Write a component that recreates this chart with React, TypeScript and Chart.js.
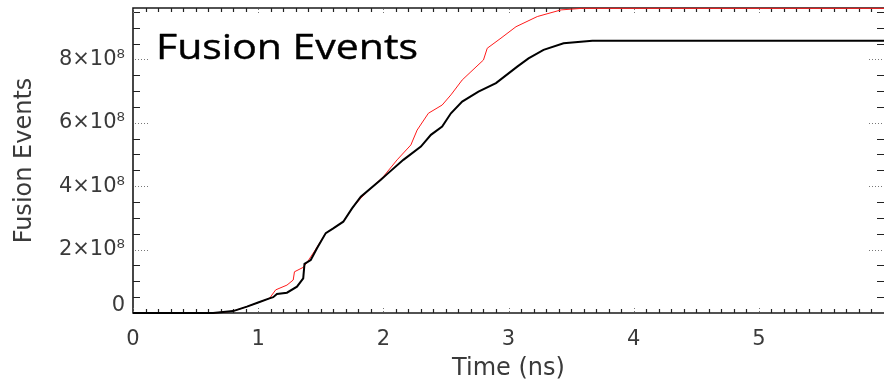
import React, { useEffect, useRef } from 'react';
import { Chart, registerables } from 'chart.js';

Chart.register(...registerables);

// Cumulative fusion events versus time, two simulation runs
const blackTime = [
  0, 0.64, 0.8, 0.91, 1.0, 1.09, 1.12, 1.15, 1.23, 1.31, 1.36, 1.37, 1.42, 1.47,
  1.54, 1.6, 1.68, 1.75, 1.82, 1.98, 2.03, 2.16, 2.3, 2.38, 2.47, 2.54, 2.63,
  2.76, 2.9, 3.07, 3.16, 3.28, 3.44, 3.67, 6.0,
];
const blackEvents = [
  0, 0, 0.06e8, 0.2e8, 0.33e8, 0.46e8, 0.5e8, 0.6e8, 0.64e8, 0.83e8, 1.09e8,
  1.55e8, 1.67e8, 2.04e8, 2.52e8, 2.67e8, 2.88e8, 3.3e8, 3.67e8, 4.2e8, 4.38e8,
  4.83e8, 5.25e8, 5.62e8, 5.88e8, 6.3e8, 6.67e8, 6.98e8, 7.25e8, 7.77e8,
  8.03e8, 8.3e8, 8.51e8, 8.59e8, 8.59e8,
];

const redTime = [
  0, 0.64, 0.8, 0.91, 1.0, 1.09, 1.14, 1.23, 1.28, 1.29, 1.36, 1.39, 1.45, 1.54,
  1.6, 1.68, 1.75, 1.82, 1.9, 2.0, 2.11, 2.22, 2.27, 2.36, 2.47, 2.54, 2.63,
  2.7, 2.8, 2.83, 2.94, 3.06, 3.23, 3.42, 3.59, 6.0,
];
const redEvents = [
  0, 0, 0.06e8, 0.2e8, 0.33e8, 0.46e8, 0.73e8, 0.88e8, 1.04e8, 1.3e8, 1.44e8,
  1.59e8, 1.95e8, 2.52e8, 2.67e8, 2.88e8, 3.3e8, 3.62e8, 3.93e8, 4.3e8, 4.83e8,
  5.3e8, 5.77e8, 6.3e8, 6.56e8, 6.88e8, 7.35e8, 7.61e8, 7.98e8, 8.35e8, 8.67e8,
  9.03e8, 9.35e8, 9.56e8, 9.61e8, 9.61e8,
];

const xMajorTicks = [0, 1, 2, 3, 4, 5, 6];
const xTickLabels = ['0', '1', '2', '3', '4', '5', ''];
const yMajorTicks = [0, 2e8, 4e8, 6e8, 8e8];
// the zero label sits a little above its tick, hence the empty second line
const yTickLabels: (string | string[])[] = [['0', ''], '2×10⁸', '4×10⁸', '6×10⁸', '8×10⁸'];

const X_MAX = 6;
const Y_MAX = 9.62e8;
const X_MINOR_STEP = 0.1;
const Y_MINOR_STEP = 0.5e8;

const axisFont = '"DejaVu Sans", sans-serif';
const axisColor = '#3a3a3a';

// Frame plus inward-pointing tick marks on all four sides
const frameTicks = {
  id: 'frameTicks',
  beforeDatasetsDraw(chart: any) {
    const { ctx, chartArea } = chart;
    const { left, right, top, bottom } = chartArea;
    const xs = chart.scales.x;
    const ys = chart.scales.y;
    ctx.save();

    ctx.strokeStyle = '#1a1a1a';
    ctx.lineWidth = 1.6;
    ctx.beginPath();
    ctx.moveTo(right, top);
    ctx.lineTo(left, top);
    ctx.lineTo(left, bottom);
    ctx.lineTo(right, bottom);
    ctx.stroke();

    // minor ticks (solid)
    ctx.lineWidth = 1.2;
    ctx.strokeStyle = '#222';
    ctx.beginPath();
    const nx = Math.round(X_MAX / X_MINOR_STEP);
    for (let i = 1; i <= nx; i++) {
      if (i % 10 === 0) continue;
      const px = Math.round(xs.getPixelForValue(i * X_MINOR_STEP)) + 0.5;
      ctx.moveTo(px, bottom);
      ctx.lineTo(px, bottom - 4);
      ctx.moveTo(px, top);
      ctx.lineTo(px, top + 4);
    }
    const ny = Math.floor(Y_MAX / Y_MINOR_STEP + 1e-9);
    for (let i = 1; i <= ny; i++) {
      if (i % 4 === 0) continue;
      const py = Math.round(ys.getPixelForValue(i * Y_MINOR_STEP)) + 0.5;
      ctx.moveTo(left, py);
      ctx.lineTo(left + 7, py);
      ctx.moveTo(right, py);
      ctx.lineTo(right - 7, py);
    }
    ctx.stroke();

    // major ticks (dotted)
    ctx.strokeStyle = '#777';
    ctx.lineWidth = 1;
    ctx.setLineDash([1, 2]);
    ctx.beginPath();
    xMajorTicks.forEach((v) => {
      const px = Math.round(xs.getPixelForValue(v)) + 0.5;
      ctx.moveTo(px, bottom - 1);
      ctx.lineTo(px, bottom - 5);
      ctx.moveTo(px, top + 1);
      ctx.lineTo(px, top + 5);
    });
    yMajorTicks.forEach((v) => {
      if (v === 0) return;
      const py = Math.round(ys.getPixelForValue(v)) + 0.5;
      ctx.moveTo(left + 2, py);
      ctx.lineTo(left + 15, py);
      ctx.moveTo(right - 2, py);
      ctx.lineTo(right - 15, py);
    });
    ctx.stroke();
    ctx.restore();
  },
};

// Large caption inside the plot area
const caption = {
  id: 'caption',
  afterDraw(chart: any) {
    const { ctx } = chart;
    const text = 'Fusion Events';
    ctx.save();
    ctx.font = '34px "Open Sans", sans-serif';
    ctx.fillStyle = '#000';
    ctx.strokeStyle = '#000';
    ctx.lineWidth = 0.4;
    ctx.lineJoin = 'round';
    ctx.textBaseline = 'alphabetic';
    const w = ctx.measureText(text).width;
    ctx.translate(156, 59);
    ctx.scale(262 / w, 1);
    ctx.fillText(text, 0, 0);
    ctx.strokeText(text, 0, 0);
    ctx.restore();
  },
};

export default function App() {
  const canvasRef = useRef<HTMLCanvasElement | null>(null);

  useEffect(() => {
    document.body.style.margin = '0';
    const canvas = canvasRef.current;
    if (!canvas) return;

    const chart = new Chart(canvas, {
      type: 'line',
      data: {
        datasets: [
          {
            label: 'Run A',
            data: blackTime.map((t, i) => ({ x: t, y: blackEvents[i] })),
            borderColor: '#000',
            borderWidth: 2,
            pointRadius: 0,
            tension: 0,
            clip: false,
          },
          {
            label: 'Run B',
            data: redTime.map((t, i) => ({ x: t, y: redEvents[i] })),
            borderColor: '#ff1a1a',
            borderWidth: 1,
            pointRadius: 0,
            tension: 0,
            clip: false,
          },
        ],
      },
      options: {
        animation: false,
        responsive: false,
        devicePixelRatio: 1,
        layout: { padding: { top: 8, right: 0, left: 0, bottom: 0 } },
        plugins: {
          legend: { display: false },
          tooltip: { enabled: false },
        },
        scales: {
          x: {
            type: 'linear',
            min: 0,
            max: X_MAX,
            afterBuildTicks: (s: any) => {
              s.ticks = xMajorTicks.map((v) => ({ value: v }));
            },
            afterFit: (s: any) => {
              s.height = 67;
              s.paddingLeft = 0;
              s.paddingRight = 0;
            },
            grid: { display: false, drawTicks: false },
            border: { display: false },
            ticks: {
              autoSkip: false,
              maxRotation: 0,
              padding: 14,
              color: axisColor,
              font: { family: axisFont, size: 21 },
              callback: (_v: any, i: number) => xTickLabels[i],
            },
            title: {
              display: true,
              text: 'Time (ns)',
              color: axisColor,
              font: { family: axisFont, size: 24 },
              padding: { top: 0, bottom: -3 },
            },
          },
          y: {
            type: 'linear',
            min: 0,
            max: Y_MAX,
            afterBuildTicks: (s: any) => {
              s.ticks = yMajorTicks.map((v) => ({ value: v }));
            },
            afterFit: (s: any) => {
              s.width = 133;
              s.paddingTop = 0;
              s.paddingBottom = 0;
            },
            grid: { display: false, drawTicks: false },
            border: { display: false },
            ticks: {
              autoSkip: false,
              padding: 8,
              color: axisColor,
              font: { family: axisFont, size: 21, lineHeight: 0.7 },
              callback: (_v: any, i: number) => yTickLabels[i],
            },
            title: {
              display: true,
              text: 'Fusion Events',
              color: axisColor,
              font: { family: axisFont, size: 24 },
              padding: { top: 10, bottom: 0 },
            },
          },
        },
      },
      plugins: [frameTicks, caption],
    });

    return () => chart.destroy();
  }, []);

  return <canvas ref={canvasRef} width={884} height={380} style={{ display: 'block' }} />;
}
